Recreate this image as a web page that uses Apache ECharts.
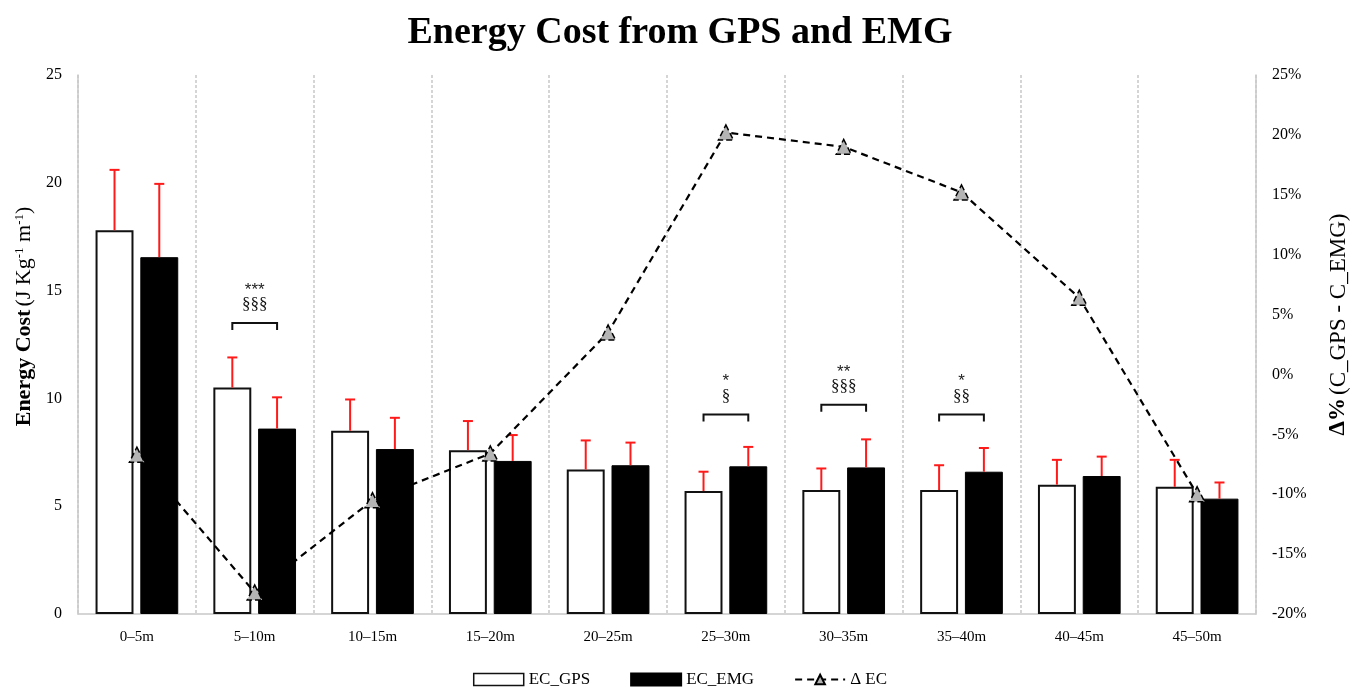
<!DOCTYPE html>
<html>
<head>
<meta charset="utf-8">
<script src="https://cdn.jsdelivr.net/npm/echarts@6/dist/echarts.min.js"></script>
<style>
  html, body { margin: 0; padding: 0; background: #fff; }
  #chart { width: 1360px; height: 691px; }
</style>
</head>
<body>
<div id="chart"></div>
<script>
// Distance segments
const categories = ['0\u20135m', '5\u201310m', '10\u201315m', '15\u201320m', '20\u201325m',
                    '25\u201330m', '30\u201335m', '35\u201340m', '40\u201345m', '45\u201350m'];
// Energy cost (J Kg-1 m-1) and standard deviations
const ecGps    = [17.8, 10.5, 8.5, 7.6, 6.7, 5.7, 5.75, 5.75, 6.0, 5.9];
const ecGpsSd  = [2.8, 1.4, 1.45, 1.35, 1.35, 0.9, 1.0, 1.15, 1.15, 1.25];
const ecEmg    = [16.55, 8.6, 7.65, 7.1, 6.9, 6.85, 6.8, 6.6, 6.4, 5.35];
const ecEmgSd  = [3.4, 1.45, 1.45, 1.2, 1.05, 0.9, 1.3, 1.1, 0.9, 0.75];
// Percentage difference between GPS and EMG estimates
const deltaEc  = [-6.7, -18.2, -10.5, -6.6, 3.5, 20.2, 19.0, 15.2, 6.4, -10.0];
// Significance brackets: segment index, bracket height (left axis units), labels
const sigIndex    = [1, 5, 6, 7];
const sigLevel    = [13.5, 9.25, 9.7, 9.25];
const sigStars    = ['***', '*', '**', '*'];
const sigSections = ['\u00a7\u00a7\u00a7', '\u00a7', '\u00a7\u00a7\u00a7', '\u00a7\u00a7'];
// Axis ranges
const leftAxisRange  = [0, 25, 5];
const rightAxisRange = [-20, 25, 5];

const serif = "'Times New Roman', 'Liberation Serif', serif";
const BAR_W = 0.322;   // bar width as fraction of category
const BAR_GAP = 0.18;  // gap between paired bars as fraction of bar width
const OFFSET = (BAR_W + BAR_W * BAR_GAP) / 2;

function errorBars(values, sds, side) {
  return {
    type: 'custom',
    yAxisIndex: 0,
    z: 3,
    silent: true,
    data: values.map((v, i) => [i, v, sds[i]]),
    renderItem: function (params, api) {
      const i = api.value(0);
      const v = api.value(1);
      const sd = api.value(2);
      const catW = api.size([1, 0])[0];
      const base = api.coord([i, v]);
      const top = api.coord([i, v + sd]);
      const x = base[0] + side * catW * OFFSET;
      const cap = 5;
      return {
        type: 'group',
        children: [
          { type: 'line', shape: { x1: x, y1: base[1], x2: x, y2: top[1] },
            style: { stroke: '#ff1a1a', lineWidth: 2 } },
          { type: 'line', shape: { x1: x - cap, y1: top[1], x2: x + cap, y2: top[1] },
            style: { stroke: '#ff1a1a', lineWidth: 2 } }
        ]
      };
    }
  };
}

const chart = echarts.init(document.getElementById('chart'));
chart.setOption({
  backgroundColor: '#fff',
  animation: false,
  title: {
    text: 'Energy Cost from GPS and EMG',
    left: 'center',
    top: 9,
    textStyle: { fontFamily: serif, fontWeight: 'bold', fontSize: 38, color: '#000' }
  },
  legend: {
    bottom: -2,
    left: 'center',
    itemGap: 40,
    itemWidth: 50,
    itemHeight: 12,
    textStyle: { fontFamily: serif, fontSize: 17, color: '#000' },
    data: [
      { name: 'EC_GPS', icon: 'rect', itemStyle: { borderWidth: 1.5 } },
      { name: 'EC_EMG', icon: 'rect' },
      { name: '\u0394 EC' }
    ]
  },
  grid: { left: 78, right: 104, top: 75, bottom: 77 },
  xAxis: {
    type: 'category',
    data: categories,
    axisLine: { show: true, lineStyle: { color: '#c8c8c8', width: 1.5 } },
    axisTick: { show: false },
    axisLabel: { fontFamily: serif, fontSize: 15, color: '#000', margin: 16 },
    splitLine: { show: true, lineStyle: { color: '#c8c8c8', type: [3, 2], width: 1.5 } }
  },
  yAxis: [
    {
      type: 'value',
      min: leftAxisRange[0], max: leftAxisRange[1], interval: leftAxisRange[2],
      position: 'left',
      axisLine: { show: true, lineStyle: { color: '#c8c8c8', width: 1.5 } },
      axisTick: { show: false },
      splitLine: { show: false },
      axisLabel: { fontFamily: serif, fontSize: 16, color: '#000', margin: 16 },
      name: '{b|Energy Cost} {n|(J Kg}{s|-1}{n| m}{s|-1}{n|)}',
      nameLocation: 'middle',
      nameRotate: 90,
      nameGap: 43,
      nameTextStyle: {
        fontFamily: serif, color: '#000',
        padding: [0, 0, 0, 56],
        rich: {
          b: { fontFamily: serif, fontWeight: 'bold', fontSize: 22, color: '#000' },
          n: { fontFamily: serif, fontSize: 22, color: '#000' },
          s: { fontFamily: serif, fontSize: 13, color: '#000', verticalAlign: 'top' }
        }
      }
    },
    {
      type: 'value',
      min: rightAxisRange[0], max: rightAxisRange[1], interval: rightAxisRange[2],
      position: 'right',
      axisLine: { show: true, lineStyle: { color: '#c8c8c8', width: 1.5 } },
      axisTick: { show: false },
      splitLine: { show: false },
      axisLabel: { fontFamily: serif, fontSize: 16, color: '#000', margin: 16, formatter: '{value}%' },
      name: '{b|\u0394%} {n|(C_GPS - C_EMG)}',
      nameLocation: 'middle',
      nameRotate: 90,
      nameGap: 71,
      nameTextStyle: {
        fontFamily: serif, color: '#000',
        padding: [0, 0, 0, 40],
        rich: {
          b: { fontFamily: serif, fontWeight: 'bold', fontSize: 23, color: '#000' },
          n: { fontFamily: serif, fontSize: 23, color: '#000' }
        }
      }
    }
  ],
  series: [
    {
      name: 'EC_GPS',
      type: 'bar',
      yAxisIndex: 0,
      barWidth: (BAR_W * 100) + '%',
      barGap: (BAR_GAP * 100) + '%',
      data: ecGps,
      itemStyle: { color: '#fff', borderColor: '#111', borderWidth: 2 },
      z: 2
    },
    {
      name: 'EC_EMG',
      type: 'bar',
      yAxisIndex: 0,
      barWidth: (BAR_W * 100) + '%',
      data: ecEmg,
      itemStyle: { color: '#000', borderColor: '#000', borderWidth: 1 },
      z: 2
    },
    errorBars(ecGps, ecGpsSd, -1),
    errorBars(ecEmg, ecEmgSd, 1),
    {
      type: 'custom',
      yAxisIndex: 0,
      silent: true,
      z: 4,
      data: sigIndex.map((idx, k) => [idx, sigLevel[k], k]),
      renderItem: function (params, api) {
        const i = api.value(0);
        const lvl = api.value(1);
        const k = api.value(2);
        const catW = api.size([1, 0])[0];
        const c = api.coord([i, lvl]);
        const x1 = c[0] - catW * OFFSET;
        const x2 = c[0] + catW * OFFSET;
        const y = c[1];
        return {
          type: 'group',
          children: [
            { type: 'polyline',
              shape: { points: [[x1, y + 7], [x1, y], [x2, y], [x2, y + 7]] },
              style: { stroke: '#111', lineWidth: 2, fill: null } },
            { type: 'text',
              style: { text: sigSections[k], x: c[0], y: y - 18, fill: '#111',
                       font: '17px ' + serif, align: 'center', verticalAlign: 'middle',
                       textAlign: 'center', textVerticalAlign: 'middle' } },
            { type: 'text',
              style: { text: sigStars[k], x: c[0], y: y - 33, fill: '#222',
                       font: "17px 'Liberation Sans', Arial, sans-serif", align: 'center', verticalAlign: 'middle',
                       textAlign: 'center', textVerticalAlign: 'middle' } }
          ]
        };
      }
    },
    {
      name: '\u0394 EC',
      type: 'line',
      yAxisIndex: 1,
      data: deltaEc,
      z: 5,
      symbol: 'triangle',
      symbolSize: 15,
      lineStyle: { color: '#000', width: 2.2, type: [7, 5] },
      itemStyle: { color: '#b4b4b4', borderColor: '#000', borderWidth: 1.5, borderType: 'dashed' }
    }
  ]
});
</script>
</body>
</html>
